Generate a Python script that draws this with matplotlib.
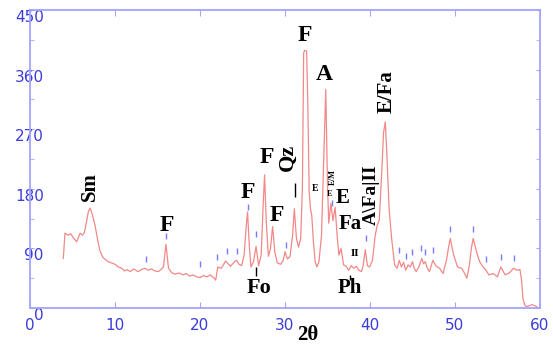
import matplotlib
matplotlib.use("Agg")
import matplotlib.pyplot as plt
from matplotlib.transforms import ScaledTranslation

# Diffrattogramma: 2theta (gradi) e intensita' (conteggi)
two_theta = [
    3.92, 4.12, 4.5, 4.8, 5.1, 5.5, 5.9, 6.2, 6.4, 6.65, 6.86, 7.06, 7.3, 7.65,
    7.96, 8.24, 8.6, 9.2, 9.6, 10.0, 10.4, 10.8, 11.1, 11.4, 11.8, 12.2, 12.7,
    13.1, 13.5, 13.9, 14.3, 14.7, 15.1, 15.4, 15.7, 15.85, 16.0, 16.15, 16.3,
    16.7, 17.1, 17.5, 18.0, 18.4, 18.8, 19.2, 19.6, 20.0, 20.4, 20.8, 21.2,
    21.6, 21.85, 22.1, 22.5, 22.8, 23.0, 23.3, 23.6, 24.0, 24.3, 24.6, 24.9,
    25.2, 25.45, 25.6, 25.8, 26.0, 26.3, 26.6, 26.9, 27.2, 27.45, 27.6, 27.8,
    28.05, 28.3, 28.55, 28.8, 29.1, 29.5, 29.8, 30.0, 30.3, 30.6, 30.9, 31.1,
    31.35, 31.6, 31.85, 32.05, 32.2, 32.3, 32.55, 32.7, 32.85, 33.0, 33.15,
    33.35, 33.55, 33.75, 34.0, 34.3, 34.55, 34.8, 35.0, 35.15, 35.4, 35.65,
    35.9, 36.15, 36.35, 36.6, 36.9, 37.2, 37.5, 37.8, 38.1, 38.4, 38.7, 39.0,
    39.2, 39.45, 39.7, 39.95, 40.3, 40.6, 40.85, 41.1, 41.4, 41.6, 41.8, 42.0,
    42.25, 42.55, 42.9, 43.2, 43.45, 43.7, 43.95, 44.2, 44.5, 44.75, 45.0,
    45.2, 45.45, 45.75, 46.1, 46.3, 46.5, 46.75, 47.0, 47.4, 47.8, 48.2, 48.6,
    49.0, 49.25, 49.45, 49.65, 49.85, 50.3, 50.8, 51.1, 51.4, 51.7, 51.95,
    52.15, 52.35, 52.6, 52.9, 53.2, 53.65, 54.0, 54.5, 55.0, 55.4, 55.9, 56.4,
    56.9, 57.3, 57.65, 57.85, 58.0, 58.2, 58.4, 58.7, 59.0, 59.3, 59.6, 59.85,
]
intensity = [
    75, 113, 110, 112, 106, 100, 113, 110, 114, 130, 145, 151, 143, 125,
    103, 86, 76, 70, 68, 66, 62, 60, 56, 58, 55, 59, 55,
    58, 60, 57, 59, 56, 55, 58, 62, 80, 96, 78, 60,
    53, 51, 53, 50, 52, 48, 50, 47, 46, 49, 47, 50,
    46, 42, 62, 60, 66, 71, 67, 63, 69, 72, 66, 64,
    80, 125, 145, 95, 62, 70, 93, 64, 80, 160, 201, 130,
    78, 90, 123, 85, 68, 66, 72, 85, 74, 78, 110, 150,
    105, 92, 105, 180, 385, 389, 388, 300, 175, 150, 140,
    100, 70, 62, 70, 110, 220, 330, 190, 128, 158, 132,
    152, 108, 80, 90, 65, 63, 57, 64, 60, 63, 57, 55,
    64, 88, 64, 62, 72, 108, 125, 133, 210, 265, 281, 230,
    150, 105, 65, 60, 72, 62, 69, 57, 65, 62, 70,
    60, 55, 62, 75, 67, 70, 60, 55, 72, 63, 60, 52,
    72, 92, 105, 92, 80, 62, 60, 53, 45, 65, 92,
    105, 95, 82, 70, 64, 57, 50, 52, 47, 62, 50, 53,
    60, 57, 58, 40, 14, 5, 2, 3, 5, 4, 2, 0,
]

# Riflessi di riferimento (trattini blu)
ref_x = [13.65, 16.0, 20.0, 22.0, 23.2, 24.35, 25.6, 26.6, 30.1, 35.5, 39.5,
         43.45, 44.2, 45.0, 46.05, 46.45, 47.4, 49.45, 52.15, 53.65, 55.4, 56.9]
ref_y = [74, 108, 66, 77, 86, 86, 153, 112, 95, 158, 105,
         87, 78, 84, 90, 85, 87, 120, 120, 74, 77, 75]

# Etichette delle fasi: testo, x, y, dimensione, rotazione
phase_text = ["Sm", "F", "F", "F", "F", "Qz", "F", "A", "E", "E/M", "E",
              "E", "Fa", "II", "A\\Fa|II", "E/Fa", "Fo", "Ph"]
phase_x = [7.06, 16.1, 25.65, 27.9, 29.05, 30.35, 32.35, 34.6, 33.5, 35.6,
           35.3, 36.8, 37.65, 38.2, 40.2, 42.0, 26.95, 37.65]
phase_y = [184, 124, 174, 227, 140, 227, 412, 352, 181, 198,
           172, 166, 127, 83, 171, 326, 30, 30]
phase_size = [15, 17, 17, 17, 17, 16, 17, 17, 7, 6, 6, 15, 15, 8, 14, 15, 16, 15]
phase_rot = [90, 0, 0, 0, 0, 90, 0, 0, 0, 90, 0, 0, 0, 0, 90, 90, 0, 0]

# Trattini neri sotto alcune etichette
mark_x = [31.2, 26.6, 37.6]
mark_lo = [168, 48, 42]
mark_hi = [189, 62, 50]

x_ticks = [0, 10, 20, 30, 40, 50, 60]
y_ticks = [0, 90, 180, 270, 360, 450]

axis_color = "#a4a4ff"
label_color = "#3b3bd9"

fig = plt.figure(figsize=(5.53, 3.47), dpi=100)
ax = fig.add_axes([0.0542, 0.1124, 0.9222, 0.8588])

ax.plot(two_theta, intensity, color="#f28888", lw=0.9)
ax.plot(ref_x, ref_y, ls="none", marker="|", ms=5, mew=1.0, color="#7a7aff")
ax.vlines(mark_x, mark_lo, mark_hi, color="black", lw=1.0)

for t, x, y, s, r in zip(phase_text, phase_x, phase_y, phase_size, phase_rot):
    ax.text(x, y, t, fontsize=s, rotation=r, ha="center", va="center",
            family="Liberation Serif", fontweight="bold", color="black")

ax.set_xlim(0, 60)
ax.set_ylim(0, 450)
ax.set_xticks(x_ticks)
ax.set_yticks(y_ticks)
ax.set_yticks([45, 135, 225, 315, 405], minor=True)

for sp in ax.spines.values():
    sp.set_color(axis_color)
    sp.set_linewidth(1.3)

ax.tick_params(which="both", direction="in", top=True, right=True,
               color=axis_color, labelcolor=label_color, labelsize=11)
ax.tick_params(axis="x", which="major", length=4, pad=7)
ax.tick_params(axis="y", which="major", length=3, pad=-10)
ax.tick_params(axis="y", which="minor", length=3)

# sposta le etichette y verso il basso come nell'originale
shift = ScaledTranslation(0, -6 / 100, fig.dpi_scale_trans)
for lab in ax.get_yticklabels():
    lab.set_transform(lab.get_transform() + shift)

fig.text(308 / 553, 2 / 347, "2\u03b8", ha="center", va="bottom",
         family="Liberation Serif", fontweight="bold", fontsize=15)

fig.savefig("out.png", dpi=100)
